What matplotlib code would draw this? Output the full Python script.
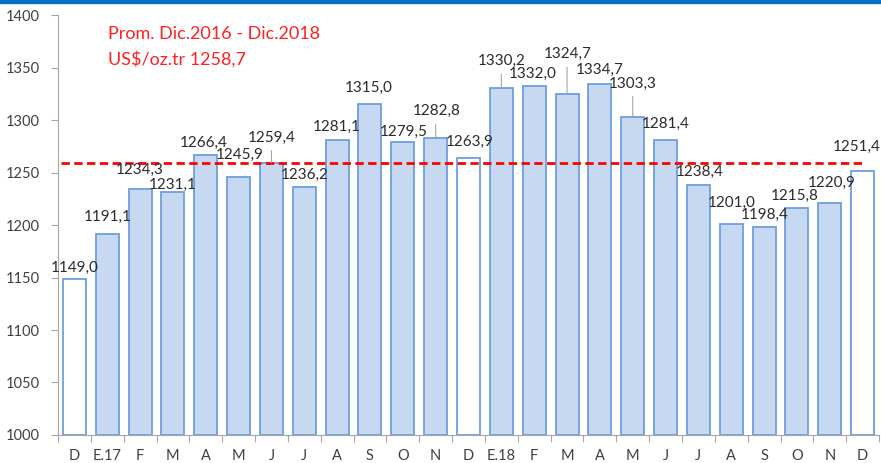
import matplotlib
matplotlib.use("Agg")
import matplotlib.pyplot as plt
from matplotlib.patches import Rectangle
import numpy as np

# monthly gold price, Dec 2016 - Dec 2018 (US$/oz.tr)
months = ["D", "E.17", "F", "M", "A", "M", "J", "J", "A", "S", "O", "N",
          "D", "E.18", "F", "M", "A", "M", "J", "J", "A", "S", "O", "N", "D"]
prices = [1149.0, 1191.1, 1234.3, 1231.1, 1266.4, 1245.9, 1259.4, 1236.2,
          1281.1, 1315.0, 1279.5, 1282.8, 1263.9, 1330.2, 1332.0, 1324.7,
          1334.7, 1303.3, 1281.4, 1238.4, 1201.0, 1198.4, 1215.8, 1220.9,
          1251.4]
avg_price = 1258.7
hollow = [0, 12, 24]  # the Decembers are drawn empty

# label placement in pixels (some labels were dragged by hand in the original)
lift = [11, 17, 19, 7, 12, 22, 25, 12, 13, 16, 10, 27, 16,
        27, 13, 40, 14, 33, 16, 13, 21, 12, 13, 20, 24]
shift = [0, 0, 0, 0, -2, 1, 0, 0, 0, -1, 1, 1, 1,
         0, -1, 1, 0, 0, 0, 1, 0, 1, -2, 1.5, -6]
leaders = [6, 11, 13, 15, 17]

plt.rcParams['font.family'] = ['Lato', 'DejaVu Sans']

fig = plt.figure(figsize=(8.81, 4.63), dpi=100)
ax = fig.add_axes([0.0658, 0.0605, 0.932, 0.907])

x = np.arange(len(prices))
face = ['white' if i in hollow else '#c6d9f1' for i in x]
ax.bar(x, np.array(prices) - 1000, width=0.70, bottom=1000, color=face,
       edgecolor='#6d9ee0', linewidth=1.3, zorder=2)

ax.plot([-0.4, 24.0], [avg_price, avg_price], color='#ff0000', lw=2.0,
        linestyle=(0, (3, 1.6)), zorder=3)

for i, v in enumerate(prices):
    txt = f"{v:.1f}".replace('.', ',')
    ax.annotate(txt, (i, v), xytext=(shift[i], lift[i]),
                textcoords='offset pixels', ha='center', va='center',
                fontsize=11, color='#2b2b2b', zorder=4)
    if i in leaders:
        ax.annotate("", xy=(i, v), xytext=(0, lift[i] - 13),
                    textcoords='offset pixels',
                    arrowprops=dict(arrowstyle='-', color='#a6a6a6', lw=0.8,
                                    shrinkA=0, shrinkB=0))

ax.text(0.061, 0.955, "Prom. Dic.2016 - Dic.2018", transform=ax.transAxes,
        color='#ff2020', fontsize=13, va='center', ha='left')
ax.text(0.061, 0.895, "US\\$/oz.tr 1258,7", transform=ax.transAxes,
        color='#ff2020', fontsize=13, va='center', ha='left')

ax.set_xlim(-0.5, len(prices) - 0.5)
ax.set_ylim(1000, 1400)
ax.set_yticks(np.arange(1000, 1401, 50))

ax.set_xticks(np.arange(-0.5, len(prices), 1))
ax.set_xticklabels([])
ax.set_xticks(x, minor=True)
ax.set_xticklabels(months, minor=True)
ax.tick_params(axis='x', which='major', length=5, color='#a6a6a6', direction='out')
ax.tick_params(axis='x', which='minor', length=0, pad=10, labelsize=10.5,
               labelcolor='#404040')
ax.tick_params(axis='y', length=5, color='#a6a6a6', pad=8, labelsize=10.5,
               labelcolor='#404040')

for s in ['top', 'right']:
    ax.spines[s].set_visible(False)
for s in ['left', 'bottom']:
    ax.spines[s].set_color('#a6a6a6')

# blue frame edge at the top of the chart
fig.patches.append(Rectangle((0, 0.994), 1, 0.006, transform=fig.transFigure,
                             color='#0070c0', zorder=5))

fig.savefig('out.png', dpi=100)
